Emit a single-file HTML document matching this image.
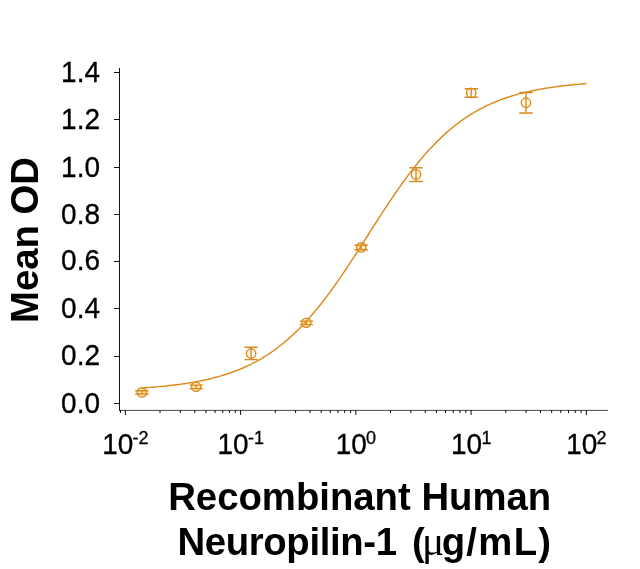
<!DOCTYPE html>
<html><head><meta charset="utf-8"><title>Chart</title>
<style>html,body{margin:0;padding:0;background:#fff}svg{display:block}text{font-family:"Liberation Sans",Arial,sans-serif;fill:#000}</style></head><body>
<svg width="640" height="569" viewBox="0 0 640 569">
<rect width="640" height="569" fill="#fff"/>
<g stroke="#111" stroke-width="1" fill="none" shape-rendering="crispEdges">
<line x1="119.5" y1="68" x2="119.5" y2="411"/>
<line x1="114" y1="403.5" x2="120" y2="403.5"/>
<line x1="114" y1="356.5" x2="120" y2="356.5"/>
<line x1="114" y1="308.5" x2="120" y2="308.5"/>
<line x1="114" y1="261.5" x2="120" y2="261.5"/>
<line x1="114" y1="214.5" x2="120" y2="214.5"/>
<line x1="114" y1="167.5" x2="120" y2="167.5"/>
<line x1="114" y1="119.5" x2="120" y2="119.5"/>
<line x1="114" y1="72.5" x2="120" y2="72.5"/>
</g>
<line x1="119" y1="410.4" x2="608" y2="410.4" stroke="#333" stroke-width="0.9"/>
<g stroke="#111" stroke-width="1" fill="none">
<line x1="125.35" y1="410" x2="125.35" y2="415"/>
<line x1="240.60" y1="410" x2="240.60" y2="415"/>
<line x1="355.85" y1="410" x2="355.85" y2="415"/>
<line x1="471.10" y1="410" x2="471.10" y2="415"/>
<line x1="586.35" y1="410" x2="586.35" y2="415"/>
<line x1="120.50" y1="410" x2="120.50" y2="413"/>
<line x1="160.04" y1="410" x2="160.04" y2="413"/>
<line x1="180.34" y1="410" x2="180.34" y2="413"/>
<line x1="194.74" y1="410" x2="194.74" y2="413"/>
<line x1="205.91" y1="410" x2="205.91" y2="413"/>
<line x1="215.03" y1="410" x2="215.03" y2="413"/>
<line x1="222.75" y1="410" x2="222.75" y2="413"/>
<line x1="229.43" y1="410" x2="229.43" y2="413"/>
<line x1="235.33" y1="410" x2="235.33" y2="413"/>
<line x1="275.29" y1="410" x2="275.29" y2="413"/>
<line x1="295.59" y1="410" x2="295.59" y2="413"/>
<line x1="309.99" y1="410" x2="309.99" y2="413"/>
<line x1="321.16" y1="410" x2="321.16" y2="413"/>
<line x1="330.28" y1="410" x2="330.28" y2="413"/>
<line x1="338.00" y1="410" x2="338.00" y2="413"/>
<line x1="344.68" y1="410" x2="344.68" y2="413"/>
<line x1="350.58" y1="410" x2="350.58" y2="413"/>
<line x1="390.54" y1="410" x2="390.54" y2="413"/>
<line x1="410.84" y1="410" x2="410.84" y2="413"/>
<line x1="425.24" y1="410" x2="425.24" y2="413"/>
<line x1="436.41" y1="410" x2="436.41" y2="413"/>
<line x1="445.53" y1="410" x2="445.53" y2="413"/>
<line x1="453.25" y1="410" x2="453.25" y2="413"/>
<line x1="459.93" y1="410" x2="459.93" y2="413"/>
<line x1="465.83" y1="410" x2="465.83" y2="413"/>
<line x1="505.79" y1="410" x2="505.79" y2="413"/>
<line x1="526.09" y1="410" x2="526.09" y2="413"/>
<line x1="540.49" y1="410" x2="540.49" y2="413"/>
<line x1="551.66" y1="410" x2="551.66" y2="413"/>
<line x1="560.78" y1="410" x2="560.78" y2="413"/>
<line x1="568.50" y1="410" x2="568.50" y2="413"/>
<line x1="575.18" y1="410" x2="575.18" y2="413"/>
<line x1="581.08" y1="410" x2="581.08" y2="413"/>
</g>
<g font-size="28" text-anchor="end" stroke="#000" stroke-width="0.3">
<text transform="translate(100,412.9) scale(1,1.075)">0.0</text>
<text transform="translate(100,364.6) scale(1,1.075)">0.2</text>
<text transform="translate(100,318.3) scale(1,1.075)">0.4</text>
<text transform="translate(100,270.0) scale(1,1.075)">0.6</text>
<text transform="translate(100,223.8) scale(1,1.075)">0.8</text>
<text transform="translate(100,176.5) scale(1,1.075)">1.0</text>
<text transform="translate(100,129.2) scale(1,1.075)">1.2</text>
<text transform="translate(100,81.9) scale(1,1.075)">1.4</text>
</g>
<g text-anchor="start" stroke="#000" stroke-width="0.3">
<text font-size="28" transform="translate(102.3,454.4) scale(1,1.075)">10</text><text font-size="18" x="132.6" y="444.0">-2</text>
<text font-size="28" transform="translate(217.5,454.4) scale(1,1.075)">10</text><text font-size="18" x="247.9" y="444.0">-1</text>
<text font-size="28" transform="translate(335.8,454.4) scale(1,1.075)">10</text><text font-size="18" x="366.1" y="444.0">0</text>
<text font-size="28" transform="translate(451.0,454.4) scale(1,1.075)">10</text><text font-size="18" x="481.4" y="444.0">1</text>
<text font-size="28" transform="translate(566.3,454.4) scale(1,1.075)">10</text><text font-size="18" x="596.6" y="444.0">2</text>
</g>
<g font-size="38.3" font-weight="bold" text-anchor="middle">
<text x="359.7" y="510.3">Recombinant Human</text>
<text x="177.5" y="555" text-anchor="start" letter-spacing="-0.36">Neuropilin-1</text>
<text x="411.9" y="555" text-anchor="start">(<tspan dx="-2.6" font-family="'Liberation Serif',serif" font-weight="normal" font-size="41.5">μ</tspan></text>
<text x="552.4" y="555" text-anchor="end" letter-spacing="1.3">g/mL)</text>
<text transform="translate(38,240) rotate(-90)">Mean OD</text>
</g>
<path d="M141.11,388.01 L143.34,387.87 L145.58,387.72 L147.82,387.56 L150.06,387.39 L152.29,387.22 L154.53,387.04 L156.77,386.85 L159.01,386.65 L161.24,386.44 L163.48,386.23 L165.72,386.00 L167.96,385.77 L170.19,385.52 L172.43,385.26 L174.67,384.99 L176.91,384.71 L179.14,384.42 L181.38,384.11 L183.62,383.79 L185.86,383.46 L188.09,383.11 L190.33,382.75 L192.57,382.37 L194.80,381.98 L197.04,381.56 L199.28,381.13 L201.52,380.68 L203.75,380.21 L205.99,379.73 L208.23,379.22 L210.47,378.68 L212.70,378.13 L214.94,377.55 L217.18,376.95 L219.42,376.33 L221.65,375.67 L223.89,374.99 L226.13,374.29 L228.37,373.55 L230.60,372.78 L232.84,371.98 L235.08,371.15 L237.32,370.29 L239.55,369.39 L241.79,368.46 L244.03,367.49 L246.26,366.48 L248.50,365.43 L250.74,364.35 L252.98,363.22 L255.21,362.05 L257.45,360.83 L259.69,359.57 L261.93,358.26 L264.16,356.91 L266.40,355.51 L268.64,354.06 L270.88,352.55 L273.11,351.00 L275.35,349.39 L277.59,347.73 L279.83,346.02 L282.06,344.24 L284.30,342.41 L286.54,340.53 L288.78,338.58 L291.01,336.58 L293.25,334.52 L295.49,332.39 L297.73,330.21 L299.96,327.96 L302.20,325.66 L304.44,323.29 L306.67,320.86 L308.91,318.38 L311.15,315.83 L313.39,313.22 L315.62,310.55 L317.86,307.82 L320.10,305.04 L322.34,302.20 L324.57,299.30 L326.81,296.35 L329.05,293.34 L331.29,290.29 L333.52,287.19 L335.76,284.04 L338.00,280.84 L340.24,277.60 L342.47,274.33 L344.71,271.01 L346.95,267.66 L349.19,264.29 L351.42,260.88 L353.66,257.45 L355.90,253.99 L358.14,250.52 L360.37,247.03 L362.61,243.53 L364.85,240.02 L367.08,236.51 L369.32,233.00 L371.56,229.48 L373.80,225.98 L376.03,222.49 L378.27,219.00 L380.51,215.54 L382.75,212.09 L384.98,208.67 L387.22,205.28 L389.46,201.91 L391.70,198.58 L393.93,195.28 L396.17,192.02 L398.41,188.81 L400.65,185.63 L402.88,182.50 L405.12,179.42 L407.36,176.39 L409.60,173.41 L411.83,170.48 L414.07,167.61 L416.31,164.80 L418.54,162.04 L420.78,159.34 L423.02,156.70 L425.26,154.12 L427.49,151.59 L429.73,149.13 L431.97,146.73 L434.21,144.40 L436.44,142.12 L438.68,139.90 L440.92,137.75 L443.16,135.65 L445.39,133.61 L447.63,131.64 L449.87,129.72 L452.11,127.86 L454.34,126.06 L456.58,124.31 L458.82,122.62 L461.06,120.98 L463.29,119.40 L465.53,117.87 L467.77,116.39 L470.01,114.96 L472.24,113.58 L474.48,112.25 L476.72,110.97 L478.95,109.73 L481.19,108.53 L483.43,107.38 L485.67,106.27 L487.90,105.20 L490.14,104.18 L492.38,103.18 L494.62,102.23 L496.85,101.31 L499.09,100.43 L501.33,99.58 L503.57,98.77 L505.80,97.99 L508.04,97.23 L510.28,96.51 L512.52,95.81 L514.75,95.15 L516.99,94.51 L519.23,93.89 L521.47,93.30 L523.70,92.74 L525.94,92.19 L528.18,91.67 L530.41,91.17 L532.65,90.69 L534.89,90.23 L537.13,89.79 L539.36,89.37 L541.60,88.97 L543.84,88.58 L546.08,88.21 L548.31,87.85 L550.55,87.51 L552.79,87.18 L555.03,86.87 L557.26,86.57 L559.50,86.28 L561.74,86.01 L563.98,85.74 L566.21,85.49 L568.45,85.25 L570.69,85.02 L572.93,84.80 L575.16,84.59 L577.40,84.38 L579.64,84.19 L581.88,84.00 L584.11,83.83 L586.35,83.66" fill="none" stroke="#dc8b1e" stroke-width="1.45"/>
<g stroke="#dc8b1e" stroke-width="1.4" fill="none">
<circle cx="141.9" cy="392.4" r="4.7" fill="#f7b733" fill-opacity="0.35"/>
<path d="M141.9,390.7 V394.0 M135.2,390.7 H148.6 M135.2,394.0 H148.6"/>
<circle cx="196.1" cy="386.8" r="4.7" fill="#f7b733" fill-opacity="0.35"/>
<path d="M196.1,385.1 V388.6 M189.4,385.1 H202.8 M189.4,388.6 H202.8"/>
<circle cx="251.1" cy="353.5" r="4.7" fill="#f7b733" fill-opacity="0.12"/>
<path d="M251.1,347.3 V359.6 M244.4,347.3 H257.8 M244.4,359.6 H257.8"/>
<circle cx="306.3" cy="322.8" r="4.7" fill="#f7b733" fill-opacity="0.35"/>
<path d="M306.3,321.1 V324.6 M299.6,321.1 H313.0 M299.6,324.6 H313.0"/>
<circle cx="361.2" cy="247.4" r="4.7" fill="#f7b733" fill-opacity="0.35"/>
<path d="M361.2,245.2 V249.7 M354.5,245.2 H367.9 M354.5,249.7 H367.9"/>
<circle cx="416.0" cy="174.5" r="4.7" fill="#f7b733" fill-opacity="0.12"/>
<path d="M416.0,167.8 V181.5 M409.3,167.8 H422.7 M409.3,181.5 H422.7"/>
<circle cx="471.2" cy="92.9" r="4.7" fill="#f7b733" fill-opacity="0.12"/>
<path d="M471.2,88.7 V97.2 M464.5,88.7 H477.9 M464.5,97.2 H477.9"/>
<circle cx="526.0" cy="102.7" r="4.7" fill="#f7b733" fill-opacity="0.12"/>
<path d="M526.0,92.5 V113.0 M519.3,92.5 H532.7 M519.3,113.0 H532.7"/>
</g>
</svg></body></html>
